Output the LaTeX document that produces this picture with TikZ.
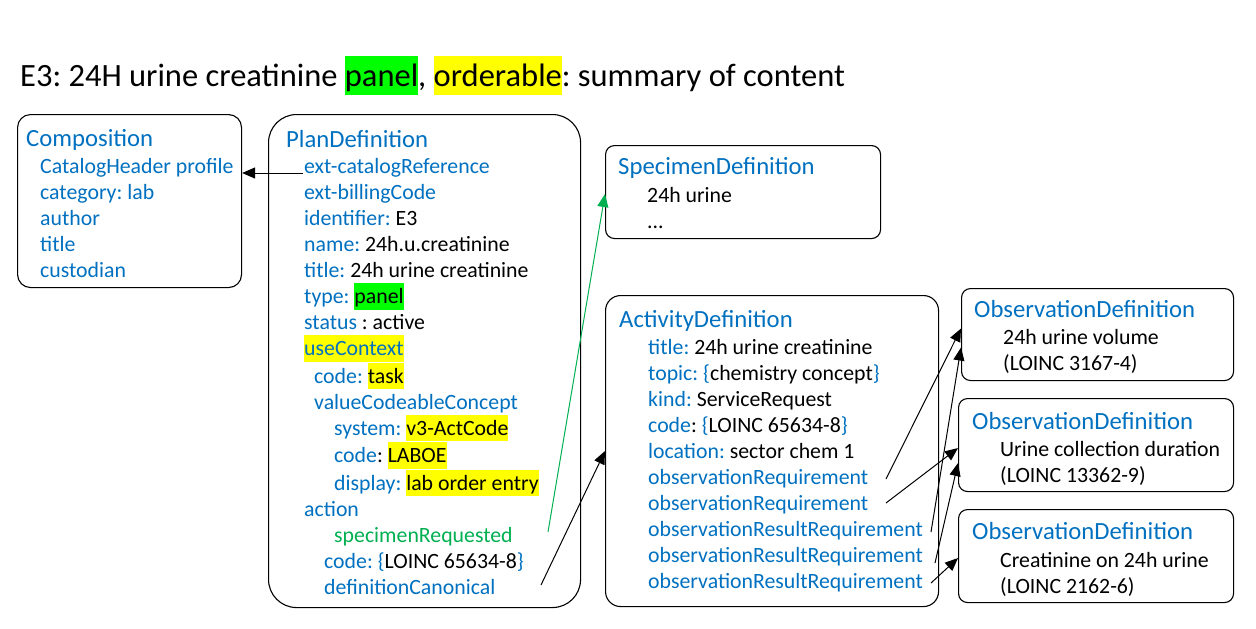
\documentclass[tikz,border=0pt]{standalone}
\usepackage{fontspec}
\setmainfont{Carlito}
\usetikzlibrary{arrows.meta, positioning, calc}
\definecolor{fhirblue}{HTML}{0070C0}
\definecolor{specgreen}{HTML}{00B050}
\definecolor{hlgreen}{HTML}{00FF00}
\definecolor{hlyellow}{HTML}{FFFF00}
\newcommand{\val}[1]{\textcolor{black}{#1}}
\newcommand{\hilite}[2]{{\setlength{\fboxsep}{0pt}\colorbox{#1}{\rule[-0.27em]{0pt}{1.21em}#2}}}
\newcommand{\ind}[1]{\hspace*{#1pt}}
\newcommand{\headline}[1]{{\fontsize{24.7}{28}\selectfont #1}}
\frenchspacing
\tikzset{
  body_font/.style = {font=\fontsize{21.8}{26}\selectfont},
  title_font/.style = {font=\fontsize{32.5}{38}\selectfont},
  frame/.style = {draw, line width=1.1, anchor=north west, inner sep=0},
  % anchor is the baseline of the last line
  content/.style = {body_font, text=fhirblue, align=left, anchor=base west, inner sep=0},
  ref/.style = {line width=1, -{Triangle[length=13pt, width=11pt]}}
}
\begin{document}
\begin{tikzpicture}[x=1pt, y=-1pt]
    \useasboundingbox (0,0) rectangle (1256,629);

    % Title
    \node[title_font, anchor=base west, inner sep=0] at (20,86.7) (title) {
        E3: 24H urine creatinine \hilite{hlgreen}{panel}, \hilite{hlyellow}{orderable}: summary of content};

    % Frames
    \node[frame, rounded corners=13, minimum width=224, minimum height=173] at (17,114) (comp) {};
    \node[frame, rounded corners=28, minimum width=312, minimum height=493] at (268,114) (plan) {};
    \node[frame, rounded corners=9, minimum width=275, minimum height=93] at (605,145) (spec) {};
    \node[frame, rounded corners=15, minimum width=333, minimum height=311] at (605,295) (act) {};
    \node[frame, rounded corners=9, minimum width=272, minimum height=92] at (961,288) (obs_1) {};
    \node[frame, rounded corners=9, minimum width=275, minimum height=93] at (958,398) (obs_2) {};
    \node[frame, rounded corners=9, minimum width=275, minimum height=93] at (958,509) (obs_3) {};

    % Contents
    \node[content] at ($(comp.north west)+(9,163)$) (comp_t) {
        \headline{Composition}\\[1pt]
        \ind{14}CatalogHeader profile\\
        \ind{14}category: lab\\
        \ind{14}author\\
        \ind{14}title\\
        \ind{14}custodian};
    \node[content] at ($(plan.north west)+(18,480)$) (plan_t) {
        \headline{PlanDefinition}\\[0.5pt]
        \ind{18}ext-catalogReference\\
        \ind{18}ext-billingCode\\
        \ind{18}identifier: \val{E3}\\
        \ind{18}name: \val{24h.u.creatinine}\\
        \ind{18}title: \val{24h urine creatinine}\\
        \ind{18}type: \val{\hilite{hlgreen}{panel}}\\
        \ind{18}status \val{: active}\\
        \ind{18}\hilite{hlyellow}{useContext}\\
        \ind{28}code: \val{\hilite{hlyellow}{task}}\\
        \ind{28}valueCodeableConcept\\
        \ind{48}system: \val{\hilite{hlyellow}{v3-ActCode}}\\
        \ind{48}code\val{: \hilite{hlyellow}{LABOE}}\\
        \ind{48}display: \val{\hilite{hlyellow}{lab order entry}}\\
        \ind{18}action\\
        \ind{48}\textcolor{specgreen}{specimenRequested}\\
        \ind{38}code: \{\val{LOINC 65634-8}\}\\
        \ind{38}definitionCanonical};
    \node[content] at ($(spec.north west)+(13,83)$) (spec_t) {
        \headline{SpecimenDefinition}\\[1.5pt]
        \ind{29}\val{24h urine}\\
        \ind{29}\val{...}};
    \node[content] at ($(act.north west)+(14,293)$) (act_t) {
        \headline{ActivityDefinition}\\[0.5pt]
        \ind{29}title: \val{24h urine creatinine}\\
        \ind{29}topic: \{\val{chemistry concept}\}\\
        \ind{29}kind: \val{ServiceRequest}\\
        \ind{29}code\val{:} \{\val{LOINC 65634-8}\}\\
        \ind{29}location: \val{sector chem 1}\\
        \ind{29}observationRequirement\\
        \ind{29}observationRequirement\\
        \ind{29}observationResultRequirement\\
        \ind{29}observationResultRequirement\\
        \ind{29}observationResultRequirement};
    \node[content] at ($(obs_1.north west)+(13,82)$) (obs_1_t) {
        \headline{ObservationDefinition}\\[1pt]
        \ind{29}\val{24h urine volume}\\
        \ind{29}\val{(LOINC 3167-4)}};
    \node[content] at ($(obs_2.north west)+(14,84)$) (obs_2_t) {
        \headline{ObservationDefinition}\\[1pt]
        \ind{28}\val{Urine collection duration}\\
        \ind{28}\val{(LOINC 13362-9)}};
    \node[content] at ($(obs_3.north west)+(14,84)$) (obs_3_t) {
        \headline{ObservationDefinition}\\[2pt]
        \ind{28}\val{Creatinine on 24h urine}\\
        \ind{28}\val{(LOINC 2162-6)}};

    % Arrow ends
    \coordinate (cat_ref) at ($(plan.north west)+(35,59)$);
    \coordinate (spec_req) at ($(plan.north west)+(280,418)$);
    \coordinate (def_can) at ($(plan.north west)+(273,471)$);
    \coordinate (obs_req_1) at ($(act.north west)+(281,184)$);
    \coordinate (obs_req_2) at ($(act.north west)+(281,208)$);
    \coordinate (res_req_1) at ($(act.north west)+(326,237)$);
    \coordinate (res_req_2) at ($(act.north west)+(330,268)$);
    \coordinate (res_req_3) at ($(act.north west)+(326,288)$);

    % Arrows
    \draw[ref] (cat_ref) -- (cat_ref -| comp.east);
    \draw[ref, specgreen] (spec_req) -- ([yshift=-2]spec.west);
    \draw[ref] (def_can) -- (act.west);
    \draw[ref] (obs_req_1) -- ([yshift=6]obs_1.west);
    \draw[ref] (res_req_1) -- ([yshift=-13]obs_1.west);
    \draw[ref] (obs_req_2) -- ([yshift=-3]obs_2.west);
    \draw[ref] (res_req_2) -- ([yshift=-18]obs_2.west);
    \draw[ref] (res_req_3) -- ([yshift=-2]obs_3.west);
\end{tikzpicture}
\end{document}
